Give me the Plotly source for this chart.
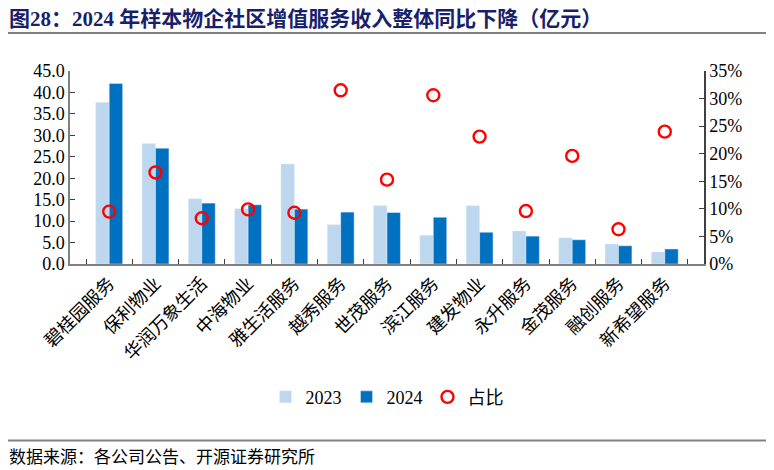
import plotly.graph_objects as go

# data
companies = ['碧桂园服务', '保利物业', '华润万象生活', '中海物业', '雅生活服务', '越秀服务',
             '世茂服务', '滨江服务', '建发物业', '永升服务', '金茂服务', '融创服务', '新希望服务']
rev_2023 = [37.7, 28.1, 15.2, 12.9, 23.3, 9.2, 13.6, 6.7, 13.6, 7.7, 6.1, 4.65, 2.8]
rev_2024 = [42.1, 27.0, 14.2, 13.8, 12.8, 12.1, 12.0, 10.9, 7.4, 6.5, 5.65, 4.25, 3.5]
share = [9.5, 16.6, 8.3, 9.9, 9.3, 31.5, 15.3, 30.6, 23.1, 9.6, 19.6, 6.3, 24.0]  # %

font_main = 'Liberation Serif, Noto Sans CJK SC'

fig = go.Figure()
fig.add_trace(go.Bar(x=companies, y=rev_2023, name='2023', marker_color='#BDD7EE'))
fig.add_trace(go.Bar(x=companies, y=rev_2024, name='2024', marker_color='#0070C0'))
fig.add_trace(go.Scatter(
    x=companies, y=[s / 100 for s in share], name='占比', yaxis='y2',
    mode='markers',
    marker=dict(symbol='circle-open', size=12, color='#FF0000', line=dict(width=2.4)),
))

# page body has an 8px margin, so the figure is a bit smaller and shifted
fig.update_layout(
    width=766, height=462,
    margin=dict(l=62, r=70, t=63, b=206),
    paper_bgcolor='white', plot_bgcolor='white',
    font=dict(family=font_main, size=18, color='#000000'),
    barmode='group', bargap=0.42, bargroupgap=0,
    showlegend=True,
    legend=dict(orientation='h', x=0.5, xanchor='center', y=-0.69, yanchor='middle',
                font=dict(size=18), itemwidth=30, tracegroupgap=0),
    xaxis=dict(
        automargin=False,
        showline=True, linecolor='#808080', linewidth=1.5,
        ticks='inside', tickson='boundaries', ticklen=5, tickcolor='#404040',
        tickangle=-45, tickfont=dict(size=18),
    ),
    yaxis=dict(
        automargin=False,
        range=[0, 45], dtick=5, tickformat='.1f',
        showgrid=False, zeroline=False,
        showline=True, linecolor='#808080', linewidth=1.5,
        ticks='inside', ticklen=5, tickcolor='#404040',
    ),
    yaxis2=dict(
        automargin=False,
        range=[0, 0.35], dtick=0.05, tickformat='.0%',
        overlaying='y', side='right',
        showgrid=False, zeroline=False,
        showline=True, linecolor='#404040', linewidth=1.5,
        ticks='inside', ticklen=5, tickcolor='#404040',
    ),
)

# title and source, with the rules that frame the chart
fig.add_annotation(
    text='<b>图28：2024 年样本物企社区增值服务收入整体同比下降（亿元）</b>',
    xref='paper', yref='paper', x=-0.1, y=1.272, xanchor='left', yanchor='middle',
    showarrow=False, font=dict(size=21, color='#1A1F6B'),
)
fig.add_annotation(
    text='数据来源：各公司公告、开源证券研究所',
    xref='paper', yref='paper', x=-0.1, y=-1.0, xanchor='left', yanchor='middle',
    showarrow=False, font=dict(size=17, color='#000000'),
)
fig.add_shape(type='line', xref='paper', yref='paper', x0=-0.105, x1=1.11, y0=1.197, y1=1.197,
              line=dict(color='#808080', width=2))
fig.add_shape(type='line', xref='paper', yref='paper', x0=-0.105, x1=1.11, y0=-0.915, y1=-0.915,
              line=dict(color='#808080', width=2))

fig.write_html('out.html')
